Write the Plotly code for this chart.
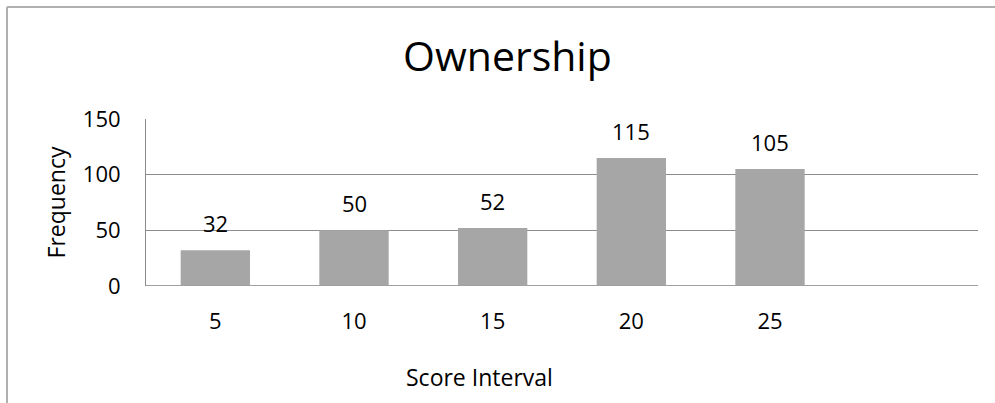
import plotly.graph_objects as go

categories = [5, 10, 15, 20, 25]
frequency = [32, 50, 52, 115, 105]
y_ticks = [0, 50, 100, 150]

W, H = 995, 403
L, R, T, B = 146, 978, 119, 286

fig = go.Figure()
fig.add_trace(go.Bar(x=categories, y=frequency, marker=dict(color="#a6a6a6", line=dict(width=0)),
                     width=2.5, hoverinfo="skip"))

for c, v in zip(categories, frequency):
    fig.add_annotation(x=c, y=v, text=str(v), showarrow=False, yanchor="bottom", yshift=10,
                       font=dict(size=22, color="#000000"))

pw = R - L
ph = B - T
def px(x):
    return (x - L) / pw
def py(y):
    return (B - y) / ph

fig.add_shape(type="line", xref="paper", yref="paper", x0=px(7), x1=px(W + 5), y0=py(7), y1=py(7),
              line=dict(color="#b0b0b0", width=2))
fig.add_shape(type="line", xref="paper", yref="paper", x0=px(7), x1=px(7), y0=py(7), y1=py(H + 5),
              line=dict(color="#b0b0b0", width=2))

fig.add_annotation(xref="paper", yref="paper", x=px(479.5), y=py(377), text="Score Interval",
                   showarrow=False, xanchor="center", yanchor="middle",
                   font=dict(size=23, color="#000000"))

fig.update_layout(
    width=W, height=H,
    margin=dict(l=L, r=W - R, t=T, b=H - B),
    paper_bgcolor="white", plot_bgcolor="white",
    showlegend=False,
    font=dict(family="Open Sans, sans-serif", color="#000000"),
    title=dict(text="Ownership", x=0.51, xanchor="center", y=0.86, yanchor="middle",
               font=dict(size=41, color="#000000")),
    xaxis=dict(range=[2.5, 32.5], tickvals=categories, ticktext=[str(c) for c in categories],
               showgrid=False, zeroline=False, showline=False, ticks="",
               tickfont=dict(size=22), ticklabelstandoff=20),
    yaxis=dict(range=[0, 150], tickvals=y_ticks, showgrid=True, gridcolor="#8c8c8c", gridwidth=1,
               zeroline=False, showline=True, linecolor="#8c8c8c", linewidth=1, ticks="",
               tickfont=dict(size=22), ticklabelstandoff=20,
               title=dict(text="Frequency", font=dict(size=23), standoff=10)),
)
fig.add_shape(type="line", xref="paper", yref="y", x0=0, x1=1, y0=0, y1=0,
              line=dict(color="#a0a0a0", width=2))

fig.write_html("out.html")
